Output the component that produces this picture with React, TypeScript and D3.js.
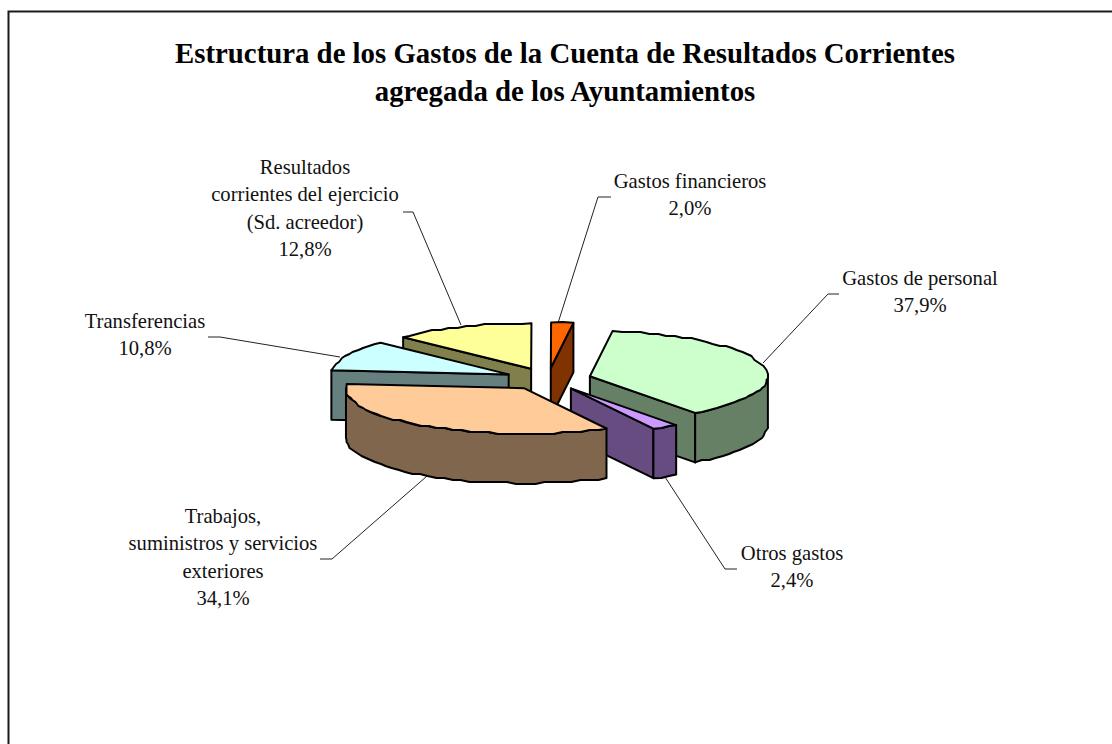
import React from 'react';
import * as d3 from 'd3';

const categories = [
  'Gastos de personal',
  'Otros gastos',
  'Trabajos, suministros y servicios exteriores',
  'Transferencias',
  'Resultados corrientes del ejercicio (Sd. acreedor)',
  'Gastos financieros',
];
const values = [37.9, 2.4, 34.1, 10.8, 12.8, 2.0];
const topColors = ['#CCFFCC', '#CC99FF', '#FFCC99', '#CCFFFF', '#FFFF99', '#FF6600'];
const sideColors = ['#668066', '#664C80', '#80664C', '#668080', '#80804C', '#803300'];
// back to front
const paintOrder = [4, 5, 3, 0, 1, 2];

const titleLines = ['Estructura de los Gastos de la Cuenta de Resultados Corrientes', 'agregada de los Ayuntamientos'];

const labelLines = [
  ['Gastos de personal', '37,9%'],
  ['Otros gastos', '2,4%'],
  ['Trabajos,', 'suministros y servicios', 'exteriores', '34,1%'],
  ['Transferencias', '10,8%'],
  ['Resultados', 'corrientes del ejercicio', '(Sd. acreedor)', '12,8%'],
  ['Gastos financieros', '2,0%'],
];
const labelX = [920, 792, 223, 145, 305, 690];
const labelY = [285, 560, 523, 328, 174, 188];
const lineGap = 27.3;

// leader lines: elbow at label side, then down to the slice
const leaders: [number, number][][] = [
  [[839, 294], [828, 294], [763, 363]],
  [[737, 569], [725, 569], [665, 477]],
  [[320, 559], [332, 559], [427, 476]],
  [[208, 337], [220, 337], [340, 357]],
  [[403, 212], [413, 212], [461, 325]],
  [[611, 197], [598, 197], [558, 323]],
];

const width = 1112;
const height = 744;
const cx = 548;
const cy = 379;
const rx = 178;
const ry = 45.5;
const depth = 49.5;
const explode = 0.243;
const rad = (deg: number) => (deg * Math.PI) / 180;
const firstAngle = rad(7.3);

const pieGen = d3.pie<number>().sort(null).startAngle(firstAngle).endAngle(firstAngle + Math.PI * 2);
const arcs = pieGen(values);

const line = d3.line<[number, number]>();
const snap = (v: number, step: number) => Math.round(v / step) * step;

// points along the rim, slightly snapped to get the rough edge of the original
const rim = (a0: number, a1: number, ox: number, oy: number, dz = 0): [number, number][] => {
  const n = Math.max(1, Math.round((a1 - a0) / rad(3)));
  return d3.range(n + 1).map((i) => {
    const a = a0 + ((a1 - a0) * i) / n;
    const x = ox + rx * Math.sin(a);
    const y = oy - ry * Math.cos(a) + dz;
    return i === 0 || i === n ? [x, y] : [snap(x, 1.5), snap(y, 2)];
  });
};

const pt = (a: number, ox: number, oy: number, dz = 0): [number, number] => [
  ox + rx * Math.sin(a),
  oy - ry * Math.cos(a) + dz,
];

const App = () => {
  const slices = arcs.map((d, i) => {
    const mid = (d.startAngle + d.endAngle) / 2;
    const ox = cx + explode * rx * Math.sin(mid);
    const oy = cy - explode * ry * Math.cos(mid);
    const faces: [number, number][][] = [];
    if (Math.sin(d.startAngle) < -0.01) {
      const p = pt(d.startAngle, ox, oy);
      faces.push([[ox, oy], p, [p[0], p[1] + depth], [ox, oy + depth]]);
    }
    if (Math.sin(d.endAngle) > 0.01) {
      const p = pt(d.endAngle, ox, oy);
      faces.push([[ox, oy], p, [p[0], p[1] + depth], [ox, oy + depth]]);
    }
    const a0 = Math.max(d.startAngle, Math.PI / 2);
    const a1 = Math.min(d.endAngle, (Math.PI * 3) / 2);
    if (a1 > a0) {
      faces.push([...rim(a0, a1, ox, oy), ...rim(a0, a1, ox, oy, depth).reverse()]);
    }
    const top: [number, number][] = [[ox, oy], ...rim(d.startAngle, d.endAngle, ox, oy)];
    return { i, faces, top };
  });

  return (
    <svg
      width={width}
      height={height}
      style={{ position: 'absolute', left: 0, top: 0, display: 'block', background: '#fff' }}
      fontFamily="'Liberation Serif', serif"
    >
      <path d={`M${width},11.5H8.5V${height}`} fill="none" stroke="#1a1a1a" strokeWidth={2} />

      <g textAnchor="middle" fontWeight="bold" fontSize={28.8} fill="#000">
        {titleLines.map((t, i) => (
          <text key={t} x={565} y={63 + i * 37.5}>
            {t}
          </text>
        ))}
      </g>

      <g fill="none" stroke="#222" strokeWidth={1}>
        {leaders.map((l, i) => (
          <path key={categories[i]} d={line(l) ?? ''} />
        ))}
      </g>

      <g stroke="#000" strokeWidth={2} strokeLinejoin="round">
        {paintOrder.map((idx) => {
          const s = slices[idx];
          return (
            <g key={categories[idx]}>
              {s.faces.map((f, k) => (
                <path key={k} d={`${line(f)}Z`} fill={sideColors[idx]} />
              ))}
              <path d={`${line(s.top)}Z`} fill={topColors[idx]} />
            </g>
          );
        })}
      </g>

      <g textAnchor="middle" fontSize={20.6} fill="#111">
        {labelLines.map((lines, i) =>
          lines.map((t, k) => (
            <text key={t} x={labelX[i]} y={labelY[i] + k * lineGap}>
              {t}
            </text>
          )),
        )}
      </g>
    </svg>
  );
};

export default App;
